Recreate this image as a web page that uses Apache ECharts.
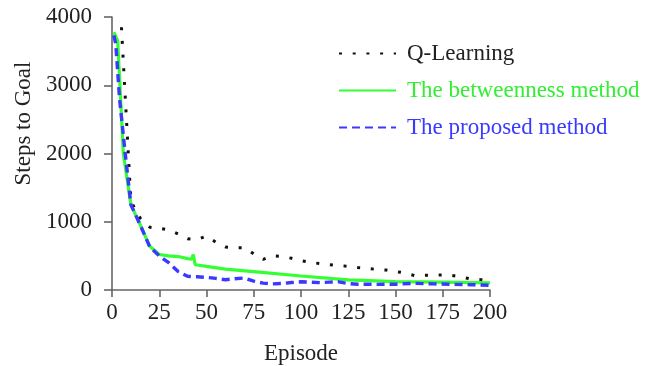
<!DOCTYPE html>
<html>
<head>
<meta charset="utf-8">
<script src="https://cdn.jsdelivr.net/npm/echarts@6/dist/echarts.min.js"></script>
<style>html,body{margin:0;padding:0;background:#fff}#c{width:660px;height:366px}</style>
</head>
<body>
<div id="c"></div>
<script>
var seriesNames = ['Q-Learning', 'The betweenness method', 'The proposed method'];
var xTicks = [0, 25, 50, 75, 100, 125, 150, 175, 200];
var yTicks = [0, 1000, 2000, 3000, 4000];

var qEpisodes = [5, 10, 15, 20, 25, 30, 35, 40, 45, 50, 55, 60, 65, 70, 75, 80, 85, 90, 95, 100, 105, 110, 115, 120, 125, 130, 135, 140, 145, 150, 155, 160, 165, 170, 175, 180, 185, 190, 195, 200];
var qSteps = [3850, 1300, 1050, 920, 905, 880, 820, 750, 740, 790, 700, 630, 620, 620, 530, 450, 500, 490, 465, 430, 405, 387, 372, 360, 347, 330, 315, 302, 292, 270, 250, 212, 214, 218, 221, 212, 190, 160, 152, 135];

var bEpisodes = [1, 3, 6, 10, 15, 20, 25, 30, 35, 40, 42, 43, 44, 50, 60, 75, 100, 125, 150, 175, 200];
var bSteps = [3780, 3650, 2000, 1250, 950, 640, 520, 500, 490, 460, 450, 520, 370, 345, 305, 270, 205, 148, 122, 115, 105];

var pEpisodes = [1, 2, 4, 7, 10, 15, 20, 25, 30, 35, 40, 45, 50, 55, 60, 65, 70, 75, 80, 85, 90, 95, 100, 105, 110, 115, 120, 125, 130, 140, 150, 160, 170, 180, 190, 200];
var pSteps = [3730, 3600, 2800, 2000, 1250, 950, 630, 500, 400, 270, 200, 195, 185, 170, 150, 165, 175, 130, 100, 90, 95, 110, 120, 115, 108, 115, 120, 95, 85, 83, 85, 98, 90, 83, 78, 70];

function pairs(xs, ys) { return xs.map(function (x, i) { return [x, ys[i]]; }); }

var font = '"Liberation Serif", "Times New Roman", serif';
var axisCol = '#666';
var chart = echarts.init(document.getElementById('c'), null, {renderer: 'canvas'});
chart.setOption({
  animation: false,
  grid: {left: 112, right: 170, top: 17, bottom: 76, containLabel: false, outerBoundsMode: 'none'},
  legend: {
    orient: 'vertical', left: 338, top: 42, padding: 0, itemWidth: 57, itemHeight: 14, itemGap: 14,
    itemStyle: {opacity: 0},
    data: [
      {name: seriesNames[0], textStyle: {color: '#222'}},
      {name: seriesNames[1], textStyle: {color: '#33ee33'}},
      {name: seriesNames[2], textStyle: {color: '#3a3aff'}}
    ],
    textStyle: {fontFamily: font, fontSize: 23, padding: [0, 0, 0, 6]}
  },
  xAxis: {
    type: 'value', min: 0, max: 200, interval: 25,
    name: 'Episode', nameLocation: 'middle', nameGap: 52,
    nameTextStyle: {fontFamily: font, fontSize: 23, color: '#222'},
    axisLine: {show: true, lineStyle: {color: axisCol, width: 1.6}},
    axisTick: {show: true, length: 7, lineStyle: {color: axisCol, width: 1.6}},
    axisLabel: {fontFamily: font, fontSize: 23, color: '#222', margin: 11,
      formatter: function (v) { return xTicks.indexOf(v) >= 0 ? String(v) : ''; }},
    splitLine: {show: false}
  },
  yAxis: {
    type: 'value', min: 0, max: 4000, interval: 1000,
    name: 'Steps to Goal', nameLocation: 'middle', nameGap: 76,
    nameTextStyle: {fontFamily: font, fontSize: 23, color: '#222', padding: [0, 0, 0, 60]},
    axisLine: {show: true, lineStyle: {color: axisCol, width: 1.6}},
    axisTick: {show: true, length: 8, lineStyle: {color: axisCol, width: 1.6}},
    axisLabel: {fontFamily: font, fontSize: 23, color: '#222', margin: 20,
      formatter: function (v) { return yTicks.indexOf(v) >= 0 ? String(v) : ''; }},
    splitLine: {show: false}
  },
  series: [
    {name: seriesNames[0], type: 'line', symbol: 'none', z: 3,
      data: pairs(qEpisodes, qSteps),
      itemStyle: {color: '#222'},
      lineStyle: {color: '#111', width: 3, type: [3, 10.7], cap: 'butt'}},
    {name: seriesNames[1], type: 'line', symbol: 'none', z: 2,
      data: pairs(bEpisodes, bSteps),
      itemStyle: {color: '#33ff33'},
      lineStyle: {color: '#33ff33', width: 3.2}},
    {name: seriesNames[2], type: 'line', symbol: 'none', z: 4,
      data: pairs(pEpisodes, pSteps),
      itemStyle: {color: '#3a3aff'},
      lineStyle: {color: '#3a3aff', width: 3.4, type: [8, 5], cap: 'butt'}}
  ]
});
</script>
</body>
</html>
